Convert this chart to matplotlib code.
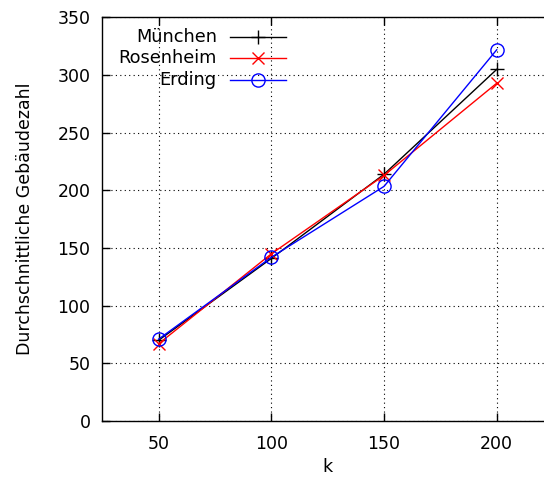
import matplotlib
matplotlib.use("Agg")
import matplotlib.pyplot as plt
from matplotlib.lines import Line2D

k = [50, 100, 150, 200]
muenchen = [70, 141, 214, 305]
rosenheim = [67, 145, 213, 293]
erding = [71, 142, 203.5, 322]

series = [
    ("München", muenchen, dict(color="black", marker="+", markersize=10, mew=1.0)),
    ("Rosenheim", rosenheim, dict(color="#ff0000", marker="x", markersize=8, mew=1.0)),
    ("Erding", erding, dict(color="#0000ff", marker="o", markersize=9.5, mew=1.0,
                            markerfacecolor="none")),
]

plt.rcParams["font.family"] = "DejaVu Sans"
plt.rcParams["font.size"] = 12.5

fig = plt.figure(figsize=(5.44, 4.82), dpi=100)
# right edge lies outside the canvas (the original is cropped there)
ax = fig.add_axes([0.188, 0.1266, 0.8287, 0.8371])

for label, ys, st in series:
    ax.plot(k, ys, linewidth=1.0, **st)

ax.set_xlim(25, 225)
ax.set_ylim(0, 350)
ax.set_xticks(k)
ax.set_yticks(range(0, 351, 50))
ax.tick_params(direction="in", length=6, width=1.0, top=True, right=True,
               colors="black")
ax.tick_params(axis="y", pad=8.5)
ax.tick_params(axis="x", pad=10)
ax.grid(True, linestyle=(0, (1, 3)), color="black", linewidth=0.8)
for s in ax.spines.values():
    s.set_linewidth(1.0)

ax.set_xlabel("k", labelpad=4)
ax.set_ylabel("Durchschnittliche Gebäudezahl", labelpad=17)

# gnuplot-style key: right-aligned text, sample line after it
y0, dy = 0.952, 0.053
for i, (label, ys, st) in enumerate(series):
    yy = y0 - i * dy
    ax.text(0.254, yy, label, transform=ax.transAxes, ha="right", va="center",
            fontsize=12.8, zorder=5)
    ax.add_line(Line2D([0.283, 0.407], [yy, yy], transform=ax.transAxes,
                       linewidth=1.0, clip_on=False, zorder=5, **{**st, "marker": None}))
    ax.add_line(Line2D([0.345], [yy], transform=ax.transAxes, linestyle="none",
                       clip_on=False, zorder=5, **st))

fig.savefig("out.png", dpi=100)
